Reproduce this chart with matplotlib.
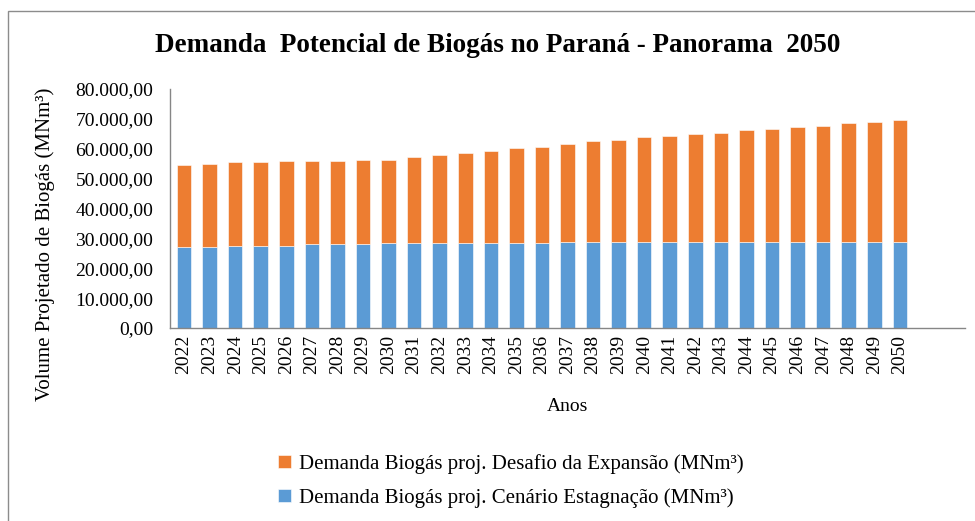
import matplotlib.pyplot as plt
from matplotlib.ticker import FuncFormatter, MultipleLocator
from matplotlib.patches import Rectangle
import numpy as np

plt.rcParams['font.family'] = ['Liberation Serif', 'DejaVu Serif']

# Anos e demanda projetada (MNm³)
anos = list(range(2022, 2051))
estagnacao = [27000, 27000, 27500, 27500, 27500, 28000, 28000, 28000, 28450, 28450,
              28450, 28450, 28450, 28450, 28450, 28900, 28900, 28900, 28900, 28900,
              28900, 28900, 28900, 28900, 28900, 28900, 28900, 28900, 28900]
total = [54450, 54900, 55450, 55450, 55900, 55900, 55900, 56350, 56350, 57250,
         57800, 58700, 59150, 60150, 60600, 61500, 62500, 62950, 63850, 64400,
         64850, 65300, 66300, 66700, 67150, 67700, 68600, 69050, 69500]
expansao = [t - e for t, e in zip(total, estagnacao)]

azul = '#5B9BD5'
laranja = '#ED7D31'

def fmt_br(v, pos):
    s = f"{v:,.2f}"
    return s.replace(',', 'X').replace('.', ',').replace('X', '.')

fig = plt.figure(figsize=(9.75, 5.21), dpi=100)
# borda da área do gráfico
fig.patches.append(Rectangle((8 / 975, -0.05), 1.0, 1 - 11 / 521 + 0.05,
                             transform=fig.transFigure, fill=False,
                             edgecolor='#8c8c8c', linewidth=1.0))

ax = fig.add_axes([170 / 975, 1 - 328 / 521, 795 / 975, (328 - 89) / 521])
x = np.arange(len(anos))
ax.bar(x, estagnacao, width=0.57, color=azul, edgecolor='white', linewidth=0.4,
       label='Demanda Biogás proj. Cenário Estagnação (MNm³)')
ax.bar(x, expansao, width=0.57, bottom=estagnacao, color=laranja, edgecolor='white',
       linewidth=0.4, label='Demanda Biogás proj. Desafio da Expansão (MNm³)')

ax.set_xlim(-0.55, 30.55)
ax.set_ylim(0, 80000)
ax.yaxis.set_major_locator(MultipleLocator(10000))
ax.yaxis.set_major_formatter(FuncFormatter(fmt_br))
ax.set_xticks(x)
ax.set_xticklabels([str(a) for a in anos], rotation=90, fontsize=14)
ax.tick_params(axis='y', labelsize=14, length=0, pad=12)
ax.tick_params(axis='x', length=0, pad=5)

for s in ['top', 'right']:
    ax.spines[s].set_visible(False)
for s in ['left', 'bottom']:
    ax.spines[s].set_color('#868686')
    ax.spines[s].set_linewidth(1.0)

ax.set_xlabel('Anos', fontsize=14, labelpad=17)
ax.set_ylabel('Volume Projetado de Biogás (MNm³)', fontsize=15)
ax.yaxis.set_label_coords(-0.145, 0.35)

fig.text(0.51, 1 - 46 / 521, 'Demanda  Potencial de Biogás no Paraná - Panorama  2050',
         ha='center', va='center', fontsize=19.5, fontweight='bold')

h, l = ax.get_legend_handles_labels()
fig.legend(h[::-1], l[::-1], loc='center', bbox_to_anchor=(0.524, 1 - 481 / 521),
           frameon=False, fontsize=15, handlelength=0.6, handleheight=0.6,
           handletextpad=0.4, labelspacing=0.7)

fig.savefig('out.png', dpi=100)
